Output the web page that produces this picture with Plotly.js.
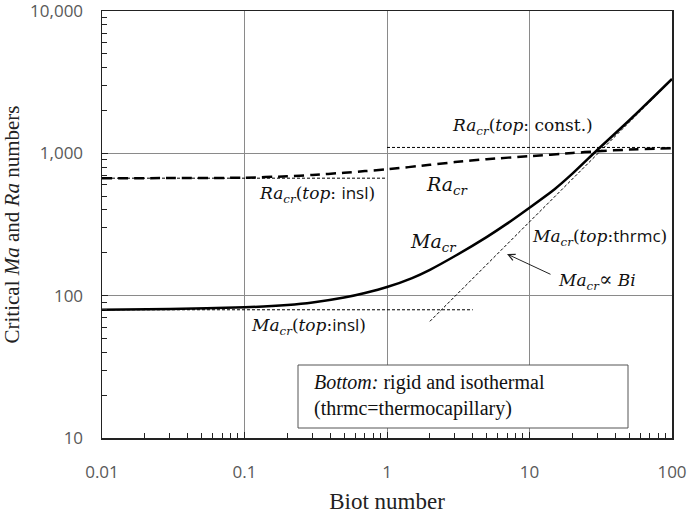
<!DOCTYPE html>
<html>
<head>
<meta charset="utf-8">
<script src="https://cdn.plot.ly/plotly-3.0.1.min.js"></script>
<style>html,body{margin:0;padding:0;background:#fff;}#chart{width:687px;height:514px;}</style>
</head>
<body>
<div id="chart"></div>
<script>
// ---- data ----
const biMa = [0.01, 0.03, 0.1, 0.2, 0.3, 0.5, 0.7, 1, 1.5, 2, 3, 5, 7, 10, 15, 20, 30, 50, 70, 100];
const maCr = [79.7, 80.5, 82.8, 86, 89.5, 97, 104.5, 115, 133, 152, 190, 258, 322, 415, 560, 720, 1060, 1700, 2350, 3330];
const biRa = [0.01, 0.03, 0.1, 0.2, 0.3, 0.5, 0.7, 1, 2, 3, 5, 10, 20, 30, 50, 100];
const raCr = [669, 670, 674, 690, 705, 730, 750, 772, 830, 868, 910, 955, 1005, 1035, 1062, 1085];
const biRaInsl = [0.01, 1];
const raInsl = [669, 669];
const biRaConst = [1, 100];
const raConst = [1100, 1100];
const biMaInsl = [0.01, 4];
const maInsl = [79.6, 79.6];
const biMaThrmc = [2, 100];
const maThrmc = [66, 3300];
const xTickVals = [0.01, 0.1, 1, 10, 100];
const xTickText = ['0.01', '0.1', '1', '10', '100'];
const yTickVals = [10, 100, 1000, 10000];
const yTickText = ['10', '100', '1,000', '10,000'];

// minor tick positions (2..9 in each decade)
function minorTicks(lo, hi) {
  const out = [];
  for (let d = lo; d < hi; d++) for (let k = 2; k <= 9; k++) out.push(k * Math.pow(10, d));
  return out;
}

const thin = {color: '#000', width: 1, dash: '3px,2px'};
const traces = [
  {x: biRaInsl, y: raInsl, mode: 'lines', line: thin, hoverinfo: 'skip'},
  {x: biRaConst, y: raConst, mode: 'lines', line: thin, hoverinfo: 'skip'},
  {x: biMaInsl, y: maInsl, mode: 'lines', line: thin, hoverinfo: 'skip'},
  {x: biMaThrmc, y: maThrmc, mode: 'lines', line: thin, hoverinfo: 'skip'},
  {x: biRa, y: raCr, mode: 'lines', line: {color: '#000', width: 2.5, dash: '10px,6px', shape: 'spline', smoothing: 0.6}},
  {x: biMa, y: maCr, mode: 'lines', line: {color: '#000', width: 2.5, shape: 'spline', smoothing: 0.6}}
];

// plot area in pixels: x 102..672, y 11..438
const L = 102, R = 672, T = 11, B = 438;
const px = p => (p - L) / (R - L);
const py = p => (B - p) / (B - T);
const serif = 'DejaVu Serif, serif';
const sans = 'Open Sans, sans-serif';
function ann(xp, yp, text, size, fam) {
  return {xref: 'paper', yref: 'paper', x: px(xp), y: py(yp), text: text, showarrow: false,
          xanchor: 'center', yanchor: 'middle', font: {family: fam || serif, size: size, color: '#111'}};
}
const sub = '<sub><i>cr</i></sub>';
const annotations = [
  ann(522, 127, '<i>Ra</i>' + sub + '(<i>top</i>: const.)', 17),
  ann(317, 193, '<i>Ra</i>' + sub + '(<i>top</i>: <span style="font-family:Open Sans">insl</span>)', 17),
  ann(447, 185, '<i>Ra</i>' + sub, 19),
  ann(433, 243, '<i>Ma</i>' + sub, 19),
  ann(599, 237, '<i>Ma</i>' + sub + '(<i>top</i>:<span style="font-family:Open Sans">thrmc</span>)', 17),
  ann(597, 280, '<i>Ma</i>' + sub + '<span style="font-size:20px">∝</span> <i>Bi</i>', 17),
  ann(308, 326, '<i>Ma</i>' + sub + '(<i>top</i>:<span style="font-family:Open Sans">insl</span>)', 17),
  {xref: 'paper', yref: 'paper', x: px(507), y: py(254), ax: 45, ay: 21, text: '', showarrow: true,
   arrowhead: 5, arrowsize: 1.3, arrowwidth: 1, arrowcolor: '#222', standoff: 0},
  {xref: 'paper', yref: 'paper', x: px(312), y: py(395.5), xanchor: 'left', yanchor: 'middle', align: 'left', showarrow: false,
   text: '<i>Bottom:</i> rigid and isothermal<br>(thrmc=thermocapillary)',
   font: {family: 'Liberation Serif, serif', size: 20, color: '#111'}}
];

const shapes = [
  {type: 'rect', xref: 'paper', yref: 'paper', x0: px(298), x1: px(628), y0: py(428), y1: py(365),
   line: {color: '#555', width: 1}, fillcolor: '#fff', layer: 'above'}
];

const axisCommon = {
  type: 'log', showline: true, mirror: true, linecolor: '#222', linewidth: 1.5,
  showgrid: true, gridcolor: '#8a8a8a', gridwidth: 1, zeroline: false,
  ticks: 'inside', ticklen: 6, tickcolor: '#222', tickwidth: 1,
  ticklabeloverflow: 'allow',
  tickfont: {family: sans, size: 17, color: '#595959'}
};

const layout = {
  width: 687, height: 514,
  margin: {l: L, r: 687 - R, t: T, b: 514 - B},
  paper_bgcolor: '#fff', plot_bgcolor: '#fff',
  showlegend: false,
  xaxis: Object.assign({}, axisCommon, {
    range: [-2, 2.000001], tickmode: 'array', tickvals: xTickVals, ticktext: xTickText,
    ticklabelstandoff: 18,
    minor: {tickmode: 'array', tickvals: minorTicks(-2, 2), ticks: 'inside', ticklen: 5, tickcolor: '#222', showgrid: false},
    title: {text: 'Biot number', font: {family: 'Liberation Serif, serif', size: 23, color: '#222'}, standoff: 11}
  }),
  yaxis: Object.assign({}, axisCommon, {
    range: [0.999999, 4.000001], tickmode: 'array', tickvals: yTickVals, ticktext: yTickText,
    ticklabelstandoff: 14,
    minor: {tickmode: 'array', tickvals: minorTicks(1, 4), ticks: 'inside', ticklen: 5, tickcolor: '#222', showgrid: false},
    title: {text: 'Critical <i>Ma</i> and <i>Ra</i> numbers', font: {family: 'Liberation Serif, serif', size: 21, color: '#222'}, standoff: 12}
  }),
  annotations: annotations,
  shapes: shapes
};

Plotly.newPlot('chart', traces, layout, {displayModeBar: false, staticPlot: true});
</script>
</body>
</html>
